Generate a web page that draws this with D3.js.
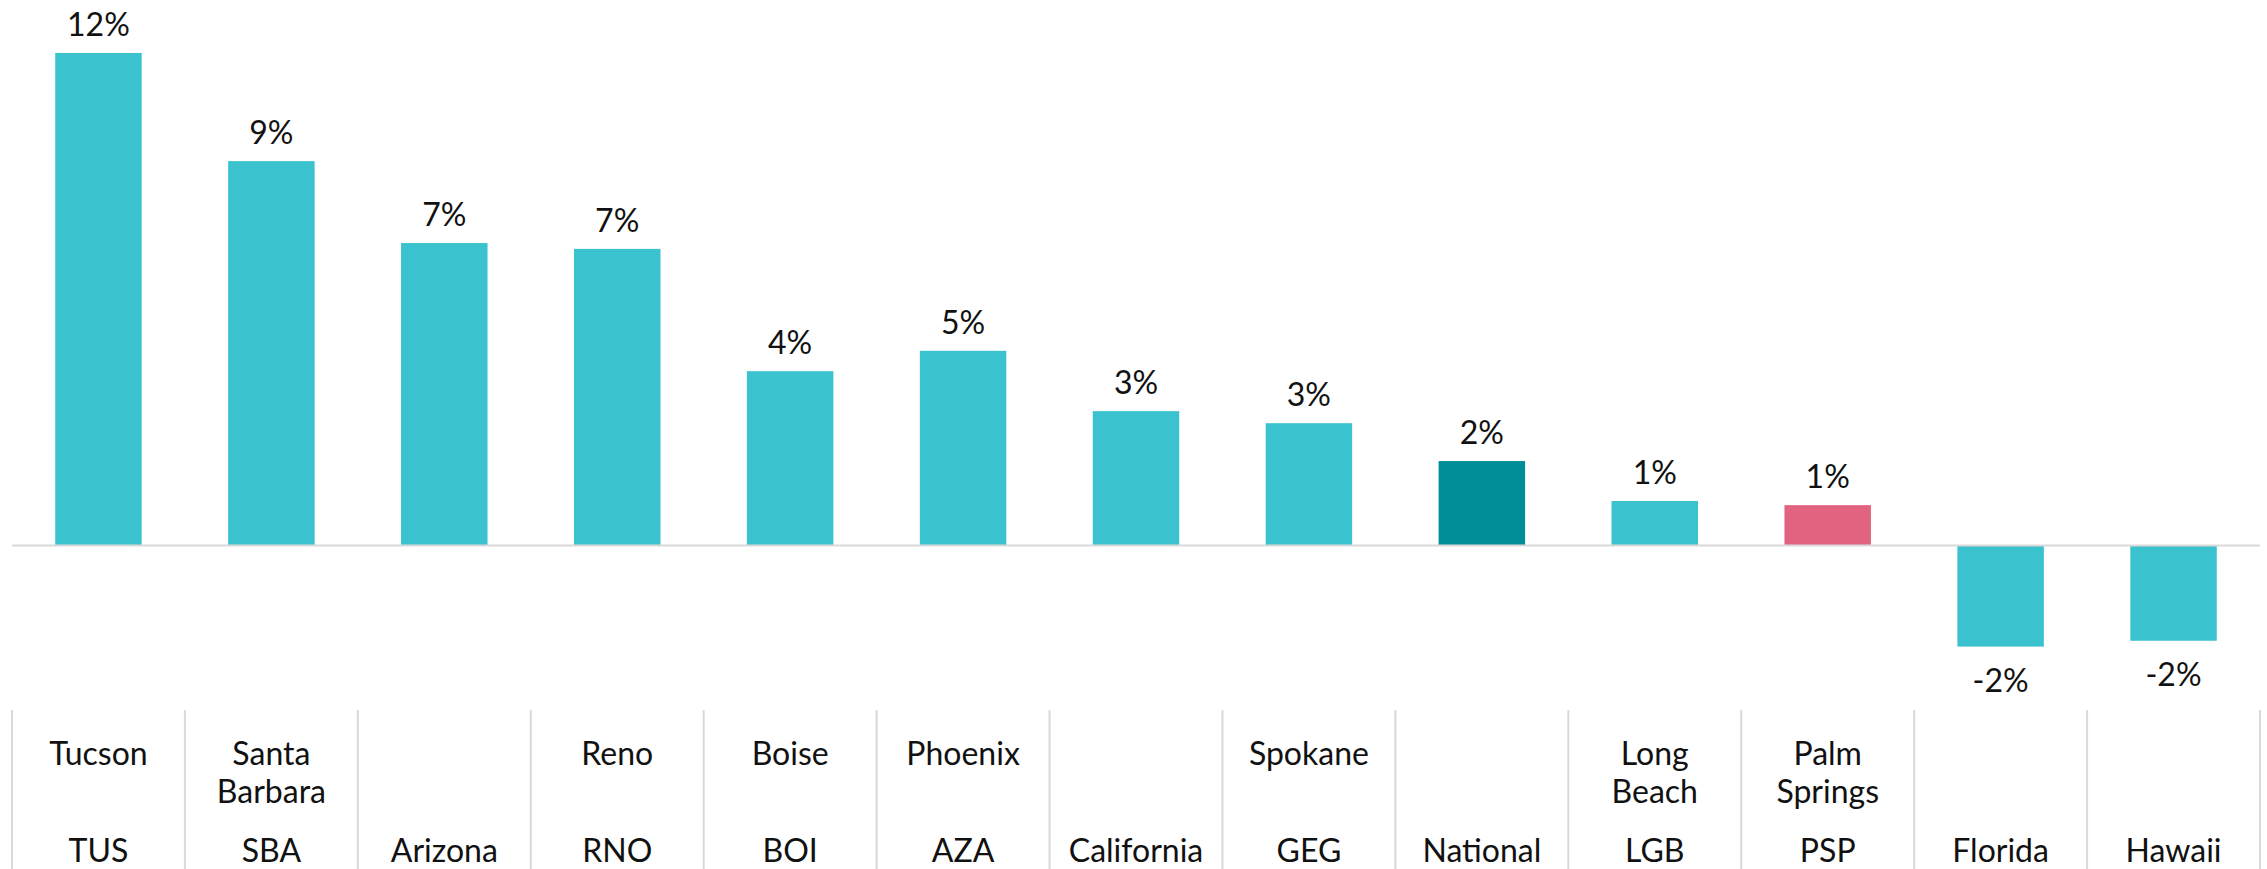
<!DOCTYPE html>
<html>
<head>
<meta charset="utf-8">
<script src="https://cdn.jsdelivr.net/npm/d3@7"></script>
<style>
  body { margin: 0; background: #fff; }
  text { font-family: Lato, "Noto Sans", sans-serif; fill: #111; }
</style>
</head>
<body>
<div id="chart"></div>
<script>
'use strict';

// data
var codes = ["TUS", "SBA", "Arizona", "RNO", "BOI", "AZA", "California", "GEG", "National", "LGB", "PSP", "Florida", "Hawaii"];
var cityNames = [["Tucson"], ["Santa", "Barbara"], [], ["Reno"], ["Boise"], ["Phoenix"], [], ["Spokane"], [], ["Long", "Beach"], ["Palm", "Springs"], [], []];
var growth = [0.1184, 0.0924, 0.0727, 0.0713, 0.0419, 0.0468, 0.0323, 0.0294, 0.0203, 0.0107, 0.0097, -0.0243, -0.0229];
var highlight = {"National": "#008d98", "PSP": "#e2637f"};

var App = {
    width: 2267,
    height: 869,
    left: 12,
    right: 2260,
    fontSize: 32,
    barColor: "#3ac2cf",
    gridColor: "#d9d9d9"
};

var data = codes.map(function(c, i) {
    return {code: c, names: cityNames[i], value: growth[i]};
});

var svg = d3.select("#chart").append("svg")
    .attr("width", App.width)
    .attr("height", App.height);

var x = d3.scaleBand()
    .domain(codes)
    .range([App.left, App.right])
    .paddingInner(0.5)
    .paddingOuter(0.25);

// 41.6px per percent, zero line at 545.5
var y = d3.scaleLinear()
    .domain([-0.04, 0.13])
    .range([711.9, 4.7]);

// plain hyphen for negatives, like the original
var pct = d3.formatLocale({decimal: ".", thousands: ",", grouping: [3], currency: ["$", ""], minus: "-"}).format(".0%");

// BARS

svg.append("g").selectAll("rect")
    .data(data)
    .enter().append("rect")
    .attr("x", function(d) { return x(d.code); })
    .attr("width", x.bandwidth())
    .attr("y", function(d) { return Math.min(y(d.value), y(0)); })
    .attr("height", function(d) { return Math.abs(y(d.value) - y(0)); })
    .attr("fill", function(d) { return highlight[d.code] || App.barColor; });

// zero line
svg.append("line")
    .attr("x1", App.left).attr("x2", App.right)
    .attr("y1", y(0)).attr("y2", y(0))
    .attr("stroke", App.gridColor)
    .attr("stroke-width", 2);

// VALUE LABELS

svg.append("g").selectAll("text")
    .data(data)
    .enter().append("text")
    .attr("x", function(d) { return x(d.code) + x.bandwidth() / 2; })
    .attr("y", function(d) { return d.value >= 0 ? y(d.value) - 17 : y(d.value) + 45; })
    .attr("text-anchor", "middle")
    .attr("font-size", App.fontSize)
    .text(function(d) { return pct(d.value); });

// TABLE

var step = x.step();
var table = svg.append("g");

table.selectAll("line")
    .data(d3.range(codes.length + 1))
    .enter().append("line")
    .attr("x1", function(i) { return App.left + i * step; })
    .attr("x2", function(i) { return App.left + i * step; })
    .attr("y1", 710).attr("y2", App.height)
    .attr("stroke", App.gridColor)
    .attr("stroke-width", 2);

var cells = table.selectAll("g.cell")
    .data(data)
    .enter().append("g")
    .attr("class", "cell")
    .attr("transform", function(d) { return "translate(" + (x(d.code) + x.bandwidth() / 2) + ",0)"; });

cells.selectAll("text.name")
    .data(function(d) { return d.names; })
    .enter().append("text")
    .attr("class", "name")
    .attr("y", function(d, i) { return 765 + i * 38; })
    .attr("text-anchor", "middle")
    .attr("font-size", App.fontSize)
    .text(function(d) { return d; });

cells.append("text")
    .attr("y", 862)
    .attr("text-anchor", "middle")
    .attr("font-size", App.fontSize)
    .text(function(d) { return d.code; });
</script>
</body>
</html>
